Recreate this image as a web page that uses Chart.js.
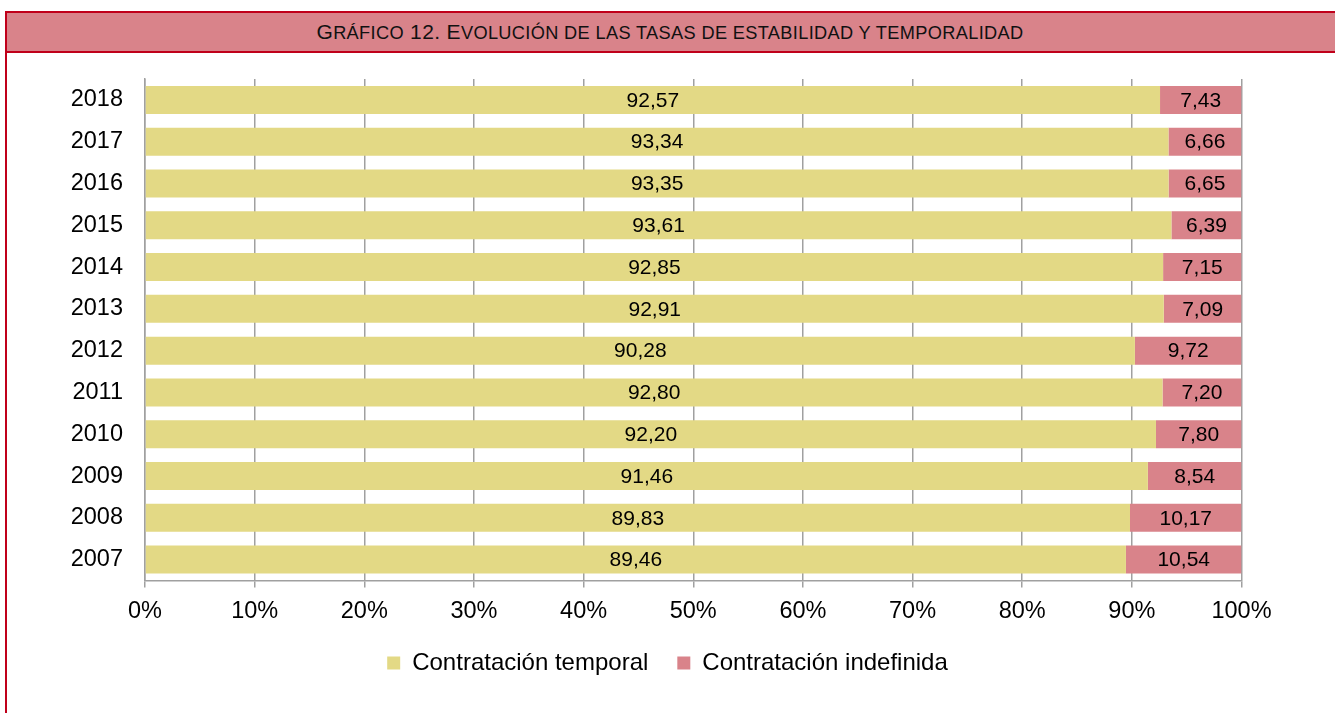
<!DOCTYPE html>
<html>
<head>
<meta charset="utf-8">
<script src="https://cdn.jsdelivr.net/npm/chart.js@4.4.1/dist/chart.umd.min.js"></script>
<style>
  html, body { margin: 0; padding: 0; background: #fff; overflow: hidden; }
  #marco {
    position: absolute; left: 5px; top: 11px; width: 1340px; height: 720px;
    border: 2px solid #c0001a; box-sizing: border-box;
  }
  #titulo {
    position: absolute; left: 0; top: 0; right: 0; height: 40px;
    background: #d9838a; border-bottom: 2px solid #c0001a; box-sizing: border-box;
    font-family: "Liberation Sans", Arial, sans-serif; font-size: 21px;
    color: #111; text-align: center; line-height: 38px; padding-right: 10px;
    letter-spacing: 0.35px; text-transform: uppercase;
  }
  #titulo small { font-size: 18.2px; }
  #grafico { position: absolute; left: 0; top: 0; width: 1335px; height: 713px; }
</style>
</head>
<body>
<div id="marco"><div id="titulo">G<small>ráfico</small> 12. E<small>volución de las tasas de estabilidad y temporalidad</small></div></div>
<div id="grafico"><canvas id="lienzo" width="1335" height="713"></canvas></div>
<script>
// Datos (de arriba a abajo, como en el gráfico)
const anios = ['2018', '2017', '2016', '2015', '2014', '2013', '2012', '2011', '2010', '2009', '2008', '2007']
const temporal = [92.57, 93.34, 93.35, 93.61, 92.85, 92.91, 90.28, 92.80, 92.20, 91.46, 89.83, 89.46]
const indefinida = [7.43, 6.66, 6.65, 6.39, 7.15, 7.09, 9.72, 7.20, 7.80, 8.54, 10.17, 10.54]
const marcasX = [0, 10, 20, 30, 40, 50, 60, 70, 80, 90, 100]

const fuente = '"Liberation Sans", Arial, sans-serif'
const gris = '#a0a0a0'

// Escribe el valor en el centro de cada tramo de barra
const etiquetas = {
  id: 'etiquetas',
  afterDatasetsDraw(chart) {
    const ctx = chart.ctx
    ctx.save()
    ctx.font = '21px ' + fuente
    ctx.fillStyle = '#000'
    ctx.textAlign = 'center'
    ctx.textBaseline = 'middle'
    chart.data.datasets.forEach((ds, i) => {
      chart.getDatasetMeta(i).data.forEach((barra, j) => {
        const texto = ds.data[j].toFixed(2).replace('.', ',')
        ctx.fillText(texto, (barra.x + barra.base) / 2, barra.y + 1)
      })
    })
    ctx.restore()
  }
}

new Chart(document.getElementById('lienzo'), {
  type: 'bar',
  data: {
    labels: anios,
    datasets: [
      { label: 'Contratación temporal', data: temporal, backgroundColor: '#e3d985' },
      { label: 'Contratación indefinida', data: indefinida, backgroundColor: '#d9838a' }
    ]
  },
  options: {
    indexAxis: 'y',
    responsive: false,
    animation: false,
    devicePixelRatio: 1,
    datasets: { bar: { barPercentage: 0.67, categoryPercentage: 1 } },
    layout: { padding: { top: 79, right: 0, left: 0, bottom: 28 } },
    scales: {
      x: {
        stacked: true,
        min: 0,
        max: 100,
        afterBuildTicks: (eje) => { eje.ticks = marcasX.map(v => ({ value: v })) },
        afterFit: (eje) => { eje.height = 41.5 },
        grid: { color: gris, lineWidth: 1.5, tickLength: 7 },
        border: { color: gris, width: 1.5 },
        ticks: {
          padding: 10,
          color: '#000',
          font: { family: fuente, size: 23.5 },
          callback: (v) => v + '%',
          maxRotation: 0
        }
      },
      y: {
        stacked: true,
        afterFit: (eje) => { eje.width = 145 },
        grid: { display: false },
        border: { display: true, color: gris, width: 1.5 },
        ticks: { padding: 14, color: '#000', font: { family: fuente, size: 23.5 } }
      },
      // eje vacío a la derecha para dejar el margen y centrar la leyenda
      derecha: {
        type: 'category',
        position: 'right',
        afterFit: (eje) => { eje.width = 93.5 },
        grid: { display: false },
        border: { display: false },
        ticks: { display: false }
      }
    },
    plugins: {
      legend: {
        position: 'bottom',
        labels: {
          boxWidth: 13,
          boxHeight: 13,
          padding: 29,
          color: '#000',
          font: { family: fuente, size: 24 }
        }
      },
      tooltip: { enabled: false }
    }
  },
  plugins: [etiquetas]
})
</script>
</body>
</html>
